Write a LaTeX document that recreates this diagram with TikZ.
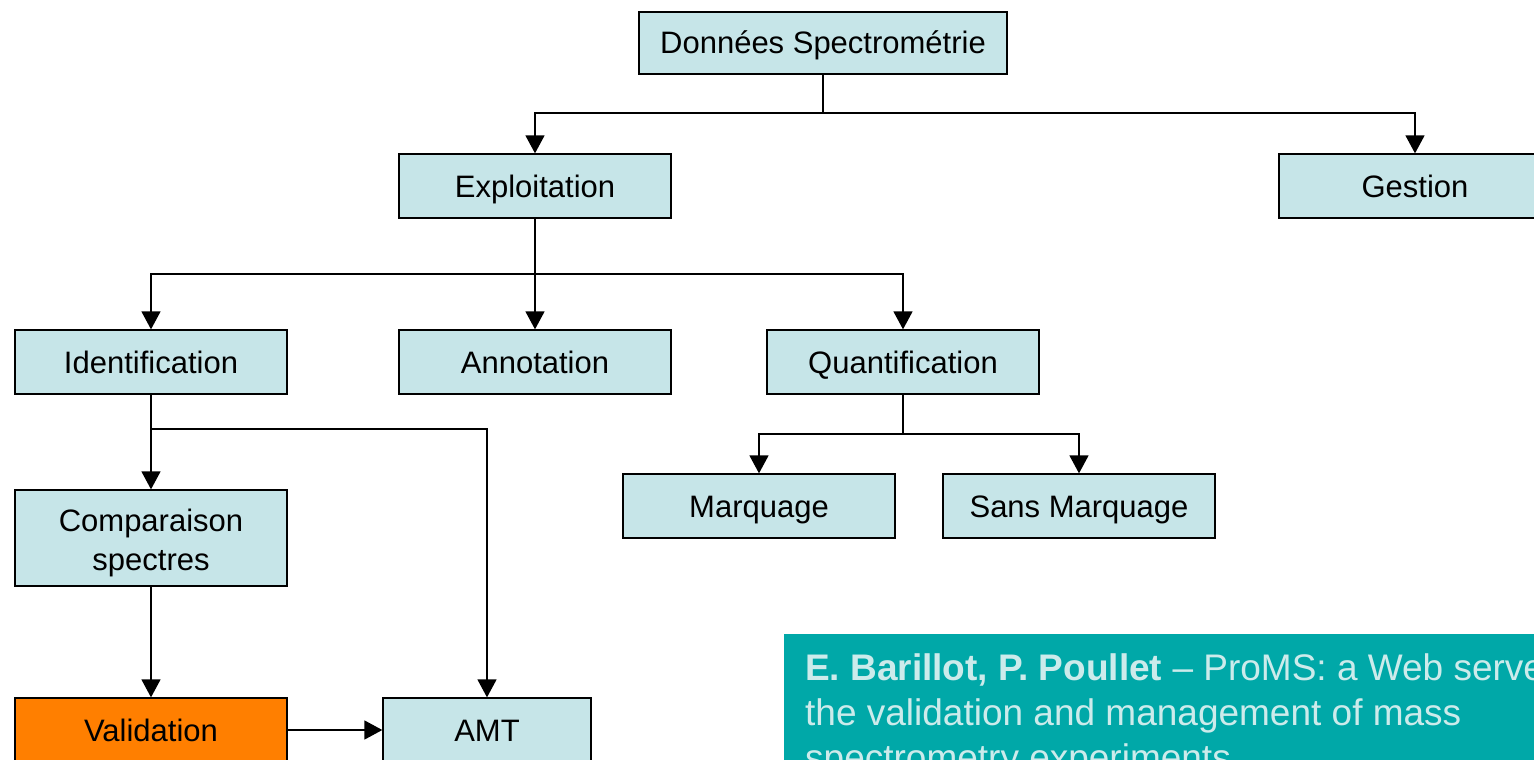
\documentclass[tikz,border=0pt]{standalone}
\usepackage{fontspec}
\setmainfont{Liberation Sans}
\usetikzlibrary{arrows.meta}
\definecolor{boxfill}{HTML}{C6E5E8}
\definecolor{valorange}{HTML}{FF7F00}
\definecolor{refteal}{HTML}{00A8A8}
\definecolor{reftext}{HTML}{CCEBEB}
\tikzset{
  plainbox/.style={draw=black, line width=1.3pt, fill=boxfill, minimum width=272pt,
    minimum height=64pt, inner sep=0pt, align=center,
    font=\fontsize{31}{39}\selectfont},
  box/.style={plainbox, text height=23pt, text depth=1pt},
  orangebox/.style={box, fill=valorange},
  link/.style={line width=1.5pt, draw=black},
  arr/.style={link, -{Triangle[length=18pt,width=19pt]}},
  reftxt/.style={anchor=base west, inner sep=0pt, text=reftext,
    font=\fontsize{37}{45}\selectfont}
}
\begin{document}
\begin{tikzpicture}[x=1pt,y=-1pt]
\useasboundingbox (0,0) rectangle (1534,760);
\clip (0,0) rectangle (1534,760);
\fill[white] (0,0) rectangle (1534,760);

% hierarchy boxes
\node[box, minimum width=368pt, minimum height=62pt] (don) at (823,43) {Données Spectrométrie};
\node[box] (expl)  at (535,186)  {Exploitation};
\node[box] (gest)  at (1415,186) {Gestion};
\node[box] (ident) at (151,362)  {Identification};
\node[box] (annot) at (535,362)  {Annotation};
\node[box] (quant) at (903,362)  {Quantification};
\node[box] (marq)  at (759,506)  {Marquage};
\node[box] (smarq) at (1079,506) {Sans Marquage};
\node[plainbox, minimum height=96pt] (comp) at (151,538)
  {\rule{0pt}{32.5pt}Comparaison\\spectres};
\node[orangebox] (valid) at (151,730) {Validation};
\node[box, minimum width=208pt] (amt) at (487,730) {AMT};

% bus junctions
\coordinate (b1) at (823,113);
\coordinate (b2) at (535,274);
\coordinate (b3) at (903,434);
\coordinate (b4) at (151,429);

% connectors
\draw[link] (don.south) -- (b1);
\draw[arr] (b1) -| (expl.north);
\draw[arr] (b1) -| (gest.north);

\draw[link] (expl.south) -- (b2);
\draw[arr] (b2) -| (ident.north);
\draw[arr] (b2) -- (annot.north);
\draw[arr] (b2) -| (quant.north);

\draw[link] (quant.south) -- (b3);
\draw[arr] (b3) -| (marq.north);
\draw[arr] (b3) -| (smarq.north);

\draw[link] (ident.south) -- (b4);
\draw[arr] (b4) -- (comp.north);
\draw[arr] (b4) -| (amt.north);

\draw[arr] (comp.south) -- (valid.north);
\draw[arr] (valid.east) -- (amt.west);

% reference panel
\fill[refteal] (784,634) rectangle (1600,820);
\node[reftxt] (ref1) at (805,680) {{\bfseries E. Barillot, P. Poullet} – ProMS: a Web server for};
\node[reftxt] (ref2) at (805,725) {the validation and management of mass};
\node[reftxt] (ref3) at (805,770) {spectrometry experiments};
\end{tikzpicture}
\end{document}
